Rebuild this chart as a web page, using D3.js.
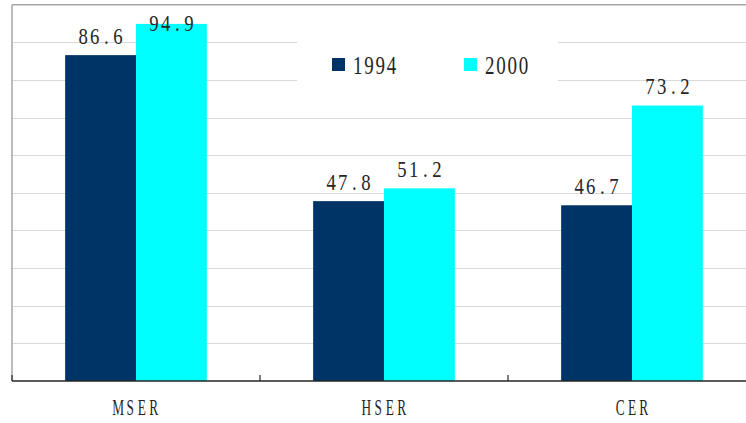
<!DOCTYPE html>
<html>
<head>
<meta charset="utf-8">
<script src="https://cdn.jsdelivr.net/npm/d3@7"></script>
<style>
  body { margin: 0; background: #fff; }
</style>
</head>
<body>
<svg id="chart" width="746" height="423"></svg>
<script>
// Data
const categories = ["MSER", "HSER", "CER"];
const seriesNames = ["1994", "2000"];
const values1994 = [86.6, 47.8, 46.7];
const values2000 = [94.9, 51.2, 73.2];
const gridTicks = [10, 20, 30, 40, 50, 60, 70, 80, 90];

const seriesColors = ["#003366", "#00ffff"];
const seriesValues = [values1994, values2000];
const FONT = "'Liberation Serif', 'Times New Roman', 'DejaVu Serif', serif";
const INK = "#262626";

const svg = d3.select("#chart");

// Plot area (the right edge runs past the window)
const plot = { left: 12, right: 756, top: 4.7, bottom: 381 };

const x = d3.scaleBand().domain(categories).range([plot.left, plot.right]).padding(0);
// gap width 75% between groups
const groupWidth = x.bandwidth() / 1.75;
const xs = d3.scaleBand().domain(seriesNames)
  .range([(x.bandwidth() - groupWidth) / 2, (x.bandwidth() + groupWidth) / 2]).padding(0);
const y = d3.scaleLinear().domain([0, 100]).range([plot.bottom, plot.top]);

// Draw a string with every character in its own fixed-width cell,
// glyphs narrowed by sx; anchor is "middle" or "start".
function cellLabel(parent, str, px, py, opts) {
  const { cell, sx, size, anchor } = opts;
  const chars = String(str).split("");
  const n = chars.length;
  const x0 = anchor === "start" ? cell / 2 : -(n - 1) * cell / 2;
  const t = parent.append("text")
    .attr("transform", `translate(${px},${py}) scale(${sx},1)`)
    .attr("text-anchor", "middle")
    .style("font-family", FONT)
    .style("font-size", size + "px")
    .style("fill", INK);
  t.selectAll("tspan")
    .data(chars)
    .join("tspan")
    .attr("x", (c, i) => (x0 + i * cell) / sx)
    .attr("y", 0)
    .text(c => c);
  return t;
}

// Gridlines
svg.append("g")
  .selectAll("line")
  .data(gridTicks)
  .join("line")
  .attr("x1", plot.left).attr("x2", plot.right)
  .attr("y1", d => Math.round(y(d)) + 0.5).attr("y2", d => Math.round(y(d)) + 0.5)
  .attr("stroke", "#d9d9d9").attr("stroke-width", 1.2);

// Plot border (top and left)
svg.append("line")
  .attr("x1", plot.left).attr("x2", plot.right)
  .attr("y1", y(100)).attr("y2", y(100))
  .attr("stroke", "#a6a6a6").attr("stroke-width", 1.5);
svg.append("line")
  .attr("x1", plot.left).attr("x2", plot.left)
  .attr("y1", y(100)).attr("y2", plot.bottom)
  .attr("stroke", "#a6a6a6").attr("stroke-width", 1.5);

// Bars
const barData = categories.flatMap((c, i) =>
  seriesNames.map((s, j) => ({ c, s, j, v: seriesValues[j][i] })));

svg.append("g")
  .selectAll("rect")
  .data(barData)
  .join("rect")
  .attr("x", d => x(d.c) + xs(d.s))
  .attr("width", xs.bandwidth())
  .attr("y", d => y(d.v))
  .attr("height", d => y(0) - y(d.v))
  .attr("fill", d => seriesColors[d.j]);

// Value labels
const valG = svg.append("g");
barData.forEach(d => {
  cellLabel(valG, d.v.toFixed(1),
    x(d.c) + xs(d.s) + xs.bandwidth() / 2,
    Math.max(y(d.v) - 11.5, 31),
    { cell: 11.6, sx: 0.78, size: 24, anchor: "middle" });
});

// Category axis along the bottom, with inward ticks between groups
const xAxis = svg.append("g");
xAxis.append("line")
  .attr("x1", plot.left).attr("x2", plot.right)
  .attr("y1", plot.bottom).attr("y2", plot.bottom)
  .attr("stroke", INK).attr("stroke-width", 1.5);
xAxis.selectAll("line.tick")
  .data(categories)
  .join("line")
  .attr("class", "tick")
  .attr("x1", d => x(d)).attr("x2", d => x(d))
  .attr("y1", plot.bottom).attr("y2", plot.bottom - 6)
  .attr("stroke", INK).attr("stroke-width", 1.2);
categories.forEach(c => {
  cellLabel(xAxis, c, x(c) + x.bandwidth() / 2, 415,
    { cell: 11.8, sx: 0.58, size: 23, anchor: "middle" });
});

// Legend
const legend = svg.append("g");
legend.append("rect")
  .attr("x", 297).attr("y", 33).attr("width", 261).attr("height", 58)
  .attr("fill", "#fff");
seriesNames.forEach((s, i) => {
  const lx = 332 + i * 132;
  legend.append("rect")
    .attr("x", lx).attr("y", 58)
    .attr("width", 13).attr("height", 13)
    .attr("fill", seriesColors[i]);
  cellLabel(legend, s, lx + 20, 73.5,
    { cell: 11.3, sx: 0.76, size: 25, anchor: "start" });
});
</script>
</body>
</html>
